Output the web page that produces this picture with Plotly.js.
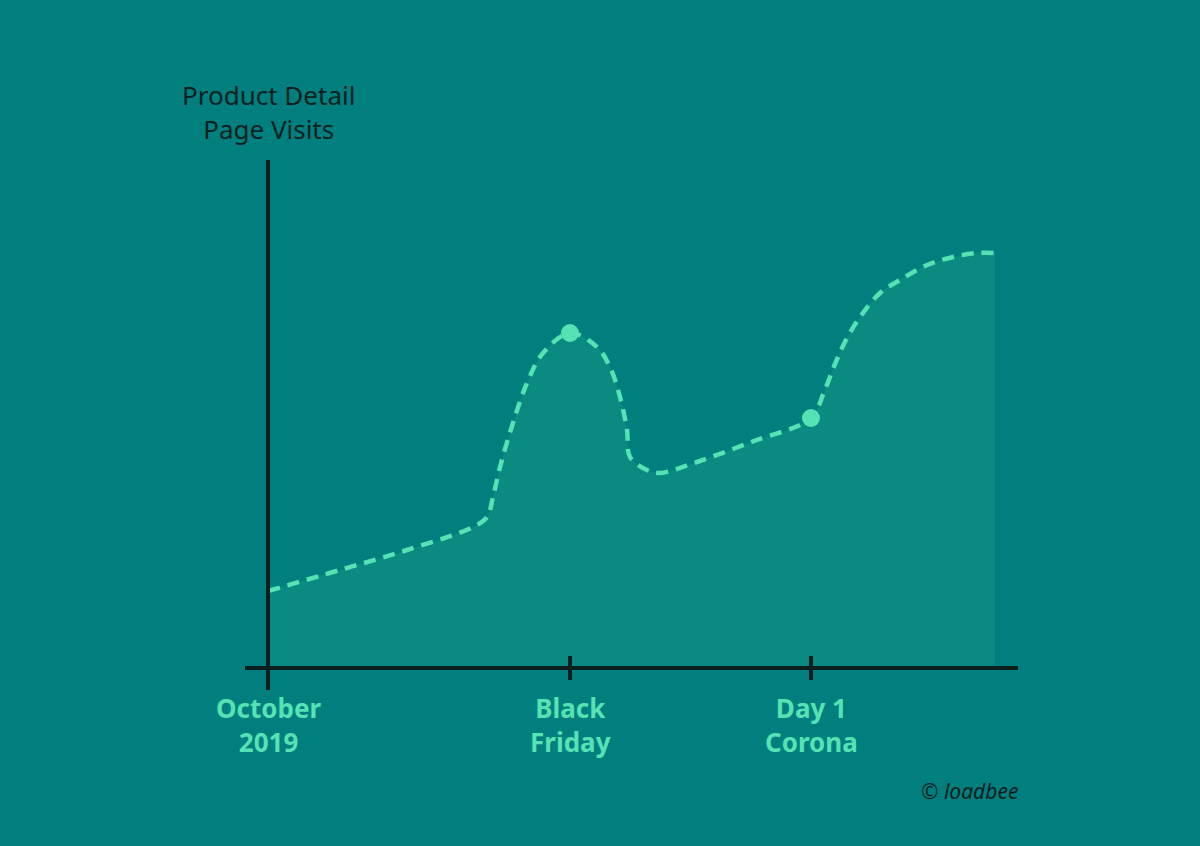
<!DOCTYPE html>
<html>
<head>
<meta charset="utf-8">
<script src="https://cdn.plot.ly/plotly-3.0.1.min.js"></script>
<style>
  html, body { margin: 0; padding: 0; background: #017f7e; }
  #chart { width: 1200px; height: 846px; }
</style>
</head>
<body>
<div id="chart"></div>
<script>
// curve (x: time, y: visits, arbitrary units)
var xs = [0, 72, 139, 205, 219, 225, 232, 245, 259, 275, 302, 329, 342, 352, 359, 362, 379, 392, 429, 486, 543, 556, 567, 578, 592, 612, 632, 659, 685, 709, 727];
var ys = [77, 98, 118, 141, 151, 171, 201, 245, 285, 315, 335, 321, 301, 271, 238, 211, 198, 195, 206, 227, 250, 276, 304, 328, 351, 375, 388, 403, 411, 415, 415];

// highlighted events
var eventX = [302, 543];
var eventY = [335, 250];

// x ticks
var tickVals = [0, 302, 543];
var tickText = ['October<br>2019', 'Black<br>Friday', 'Day 1<br>Corona'];

var green = '#55e3b4';
var ink = '#0b1f1f';

var area = {
  x: xs, y: ys,
  type: 'scatter', mode: 'lines',
  line: {color: green, width: 4.5, dash: '12px,8px', shape: 'spline', smoothing: 1},
  fill: 'tozeroy', fillcolor: '#0a8a80',
  hoverinfo: 'skip'
};

var dots = {
  x: eventX, y: eventY,
  type: 'scatter', mode: 'markers',
  marker: {color: green, size: 18},
  hoverinfo: 'skip'
};

var shapes = [
  // x axis
  {type: 'line', xref: 'x', yref: 'y', x0: -23, x1: 750, y0: 0, y1: 0,
   line: {color: ink, width: 4}},
  // y axis
  {type: 'line', xref: 'x', yref: 'y', x0: 0, x1: 0, y0: -22, y1: 508,
   line: {color: ink, width: 4}}
];
tickVals.forEach(function (v) {
  if (v === 0) return;
  shapes.push({type: 'line', xref: 'x', yref: 'y', x0: v, x1: v, y0: -12, y1: 12,
               line: {color: ink, width: 4}});
});

var annotations = tickVals.map(function (v, i) {
  return {
    x: v, y: 0, xref: 'x', yref: 'y',
    text: tickText[i], showarrow: false,
    xanchor: 'center', yanchor: 'top', yshift: -20,
    font: {family: 'Noto Sans', size: 26, color: green, weight: 'bold'}
  };
});
annotations.push({
  x: 0, y: 508, xref: 'x', yref: 'y',
  text: 'Product Detail<br>Page Visits', showarrow: false,
  xanchor: 'center', yanchor: 'bottom', yshift: 11,
  font: {family: 'Noto Sans', size: 26, color: ink}
});
annotations.push({
  x: 752, y: 0, xref: 'x', yref: 'y',
  text: '<i>© loadbee</i>', showarrow: false,
  xanchor: 'right', yanchor: 'top', yshift: -107,
  font: {family: 'Noto Sans', size: 21, color: ink}
});

var layout = {
  width: 1200, height: 846,
  margin: {l: 238, r: 172, t: 160, b: 146},
  paper_bgcolor: '#017f7e', plot_bgcolor: '#017f7e',
  showlegend: false,
  xaxis: {range: [-30, 760], visible: false, fixedrange: true},
  yaxis: {range: [-32, 508], visible: false, fixedrange: true},
  shapes: shapes,
  annotations: annotations
};

Plotly.newPlot('chart', [area, dots], layout, {displayModeBar: false, staticPlot: true});
</script>
</body>
</html>
